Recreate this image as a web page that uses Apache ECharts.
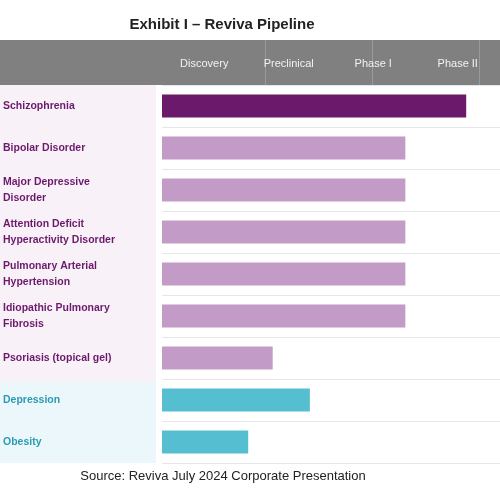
<!DOCTYPE html>
<html>
<head>
<meta charset="utf-8">
<script src="https://cdn.jsdelivr.net/npm/echarts@6/dist/echarts.min.js"></script>
<style>html,body{margin:0;padding:0;background:#fff}#chart{width:500px;height:500px}</style>
</head>
<body>
<div id="chart"></div>
<script>
const programs = ['Schizophrenia', 'Bipolar Disorder', 'Major Depressive\nDisorder', 'Attention Deficit\nHyperactivity Disorder',
  'Pulmonary Arterial\nHypertension', 'Idiopathic Pulmonary\nFibrosis', 'Psoriasis (topical gel)', 'Depression', 'Obesity']
// progress measured in phase columns
const progress = [3.6, 2.88, 2.88, 2.88, 2.88, 2.88, 1.31, 1.75, 1.02]
const groups = ['lead', 'pipe', 'pipe', 'pipe', 'pipe', 'pipe', 'pipe', 'other', 'other']
const phases = ['Discovery', 'Preclinical', 'Phase I', 'Phase II']

const barColor = { lead: '#6b1a6b', pipe: '#c29bc7', other: '#55bfd1' }
const labelColor = { lead: '#6b1a6b', pipe: '#6b1a6b', other: '#2a9bb2' }

const chart = echarts.init(document.getElementById('chart'))
const gridTop = 85, gridBottom = 463, gridLeft = 158, colW = 107

chart.setOption({
  animation: false,
  title: [
    { text: 'Exhibit I – Reviva Pipeline', left: 217, top: 12, textAlign: 'center',
      textStyle: { fontFamily: 'Liberation Sans', fontSize: 15, fontWeight: 'bold', color: '#222' } },
    { text: 'Source: Reviva July 2024 Corporate Presentation', left: 218, top: 465, textAlign: 'center',
      textStyle: { fontFamily: 'Liberation Sans', fontSize: 13, fontWeight: 'normal', color: '#222' } }
  ],
  graphic: [
    { type: 'rect', z: -10, shape: { x: 0, y: 40, width: 500, height: 45 }, style: { fill: '#808080' } },
    { type: 'rect', z: -10, shape: { x: 0, y: gridTop, width: 156, height: 297 }, style: { fill: '#f8f1f8' } },
    { type: 'rect', z: -10, shape: { x: 0, y: 382, width: 156, height: gridBottom - 382 }, style: { fill: '#ebf7fa' } }
  ].concat([1, 2, 3].map(i => ({ type: 'rect', z: -5,
    shape: { x: gridLeft + i * colW, y: 40, width: 1, height: 45 }, style: { fill: '#9a9a9a' } }))),
  grid: { left: gridLeft, top: gridTop, width: colW * 4, height: gridBottom - gridTop },
  xAxis: [
    { type: 'value', min: 0, max: 4, interval: 1, axisLabel: { show: false },
      splitLine: { show: false }, axisLine: { show: false }, axisTick: { show: false } },
    { type: 'category', position: 'top', data: phases,
      axisLine: { show: false }, axisTick: { show: false },
      axisLabel: { margin: 16, color: '#f2f2f2', fontFamily: 'Liberation Sans', fontSize: 11 } }
  ],
  yAxis: {
    type: 'category', inverse: true, data: programs,
    axisLine: { show: false }, axisTick: { show: false },
    splitLine: { show: true, lineStyle: { color: '#e6e6e6', width: 1 } },
    axisLabel: {
      align: 'left', margin: gridLeft + 1, lineHeight: 16,
      fontFamily: 'Liberation Sans', fontSize: 10.5, fontWeight: 'bold',
      color: (v, i) => labelColor[groups[i]]
    }
  },
  series: [{
    type: 'bar', barWidth: 23,
    data: progress.map((v, i) => ({ value: v, itemStyle: { color: barColor[groups[i]] } }))
  }]
})
</script>
</body>
</html>
